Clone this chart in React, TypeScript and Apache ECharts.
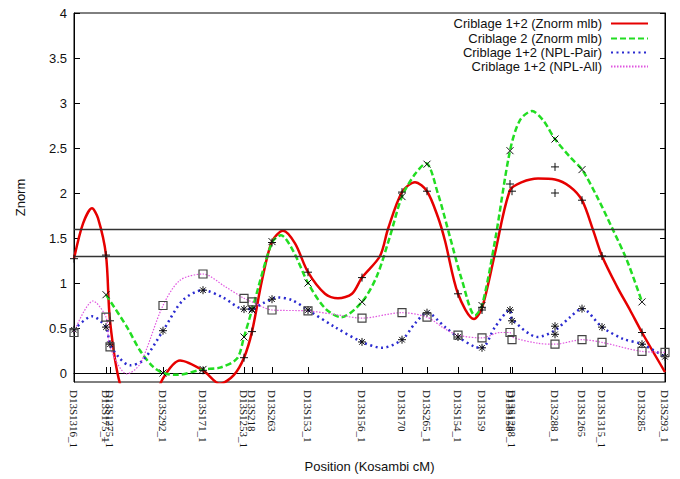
import React, { useEffect, useRef } from "react";
import * as echarts from "echarts";

// Marker positions (cM) and names
const positions = [0, 6.4, 7.2, 17.8, 25.8, 34.0, 35.6, 39.6, 46.8, 57.6, 65.6, 70.6, 76.8, 81.6, 87.2, 87.6, 96.2, 101.6, 105.6, 113.6, 118.2];
const markerNames = ["D13S1316_1", "D13S175_1", "D13S1275_1", "D13S292_1", "D13S171_1", "D13S1253_1", "D13S218", "D13S263", "D13S153_1", "D13S156_1", "D13S170", "D13S265_1", "D13S154_1", "D13S159", "D13S158", "D13S1288_1", "D13S288_1", "D13S1265", "D13S1315_1", "D13S285", "D13S293_1"];

// Marker values (null = no point)
const redPts = [1.27, 1.31, 0.58, null, 0.03, 0.17, 0.46, 1.45, 1.12, 1.06, 2.01, 2.02, 0.88, 0.70, 2.10, 2.02, 2.29, 1.92, 1.30, 0.45, null];
const redPts2 = [null, null, null, null, null, null, null, null, null, null, null, null, null, 0.73, null, null, 2.00, null, null, null, null];
const greenPts = [null, 0.87, null, 0.0, 0.04, 0.40, 0.70, 1.46, 1.00, 0.79, 1.96, 2.32, null, 0.75, 2.47, null, 2.60, 2.26, null, 0.79, null];
const bluePts = [0.48, 0.51, 0.32, 0.47, 0.92, 0.71, 0.71, 0.82, 0.70, 0.345, 0.37, 0.67, 0.40, 0.28, 0.70, 0.58, 0.52, 0.715, 0.51, 0.32, 0.18];
const bluePts2 = [null, null, null, null, null, null, null, null, null, null, null, null, null, null, null, null, 0.43, null, null, null, null];
const magentaPts = [0.45, 0.62, 0.29, 0.75, 1.10, 0.83, 0.79, 0.70, 0.69, 0.61, 0.67, 0.62, 0.42, 0.39, 0.45, 0.37, 0.32, 0.37, 0.34, 0.24, 0.23];

// Smoothed curves: [cM, Znorm]
const redCurve = [[0, 1.27], [1.8, 1.66], [3.6, 1.83], [4.8, 1.72], [6.4, 1.31], [7.2, 0.58], [9.2, -0.12], [13.2, -0.6], [17.8, -0.06], [21.2, 0.14], [25.8, 0.03], [29.2, -0.12], [32.0, -0.02], [34.0, 0.17], [35.6, 0.46], [37.6, 1.03], [39.6, 1.46], [41.8, 1.58], [44.2, 1.44], [46.8, 1.12], [50.2, 0.88], [52.8, 0.83], [55.6, 0.88], [57.6, 1.06], [61.2, 1.30], [62.8, 1.60], [65.6, 2.01], [68.2, 2.12], [70.6, 2.02], [72.8, 1.73], [74.2, 1.47], [76.8, 0.88], [80.0, 0.60], [81.6, 0.72], [84.2, 1.33], [87.2, 2.03], [89.6, 2.12], [92.8, 2.16], [96.2, 2.15], [99.2, 2.07], [101.6, 1.92], [103.8, 1.59], [105.6, 1.30], [108.6, 0.96], [111.2, 0.70], [113.6, 0.45], [118.2, 0.01]];
const greenCurve = [[6.4, 0.87], [10.6, 0.51], [13.2, 0.25], [15.8, 0.07], [17.8, 0.0], [20.6, -0.02], [25.8, 0.04], [29.2, 0.06], [32.6, 0.16], [34.0, 0.40], [35.6, 0.70], [39.6, 1.45], [41.4, 1.53], [43.8, 1.36], [46.8, 1.00], [50.2, 0.72], [53.4, 0.62], [57.6, 0.79], [60.6, 1.08], [63.2, 1.52], [65.6, 1.96], [68.2, 2.21], [70.4, 2.33], [72.8, 1.99], [75.2, 1.51], [77.6, 1.03], [80.2, 0.64], [81.6, 0.75], [84.2, 1.47], [87.2, 2.47], [89.2, 2.81], [91.6, 2.91], [93.8, 2.81], [96.2, 2.60], [99.2, 2.40], [101.6, 2.26], [104.6, 1.96], [107.8, 1.59], [110.6, 1.25], [113.6, 0.79]];
const blueCurve = [[0, 0.48], [3.6, 0.63], [6.4, 0.51], [7.2, 0.32], [9.2, 0.16], [11.2, 0.085], [13.8, 0.14], [17.8, 0.47], [21.8, 0.81], [25.8, 0.92], [29.8, 0.84], [34.0, 0.71], [35.6, 0.71], [37.6, 0.77], [40.8, 0.84], [43.6, 0.81], [46.8, 0.70], [52.2, 0.51], [57.6, 0.345], [61.6, 0.28], [65.6, 0.37], [68.2, 0.55], [70.6, 0.67], [74.2, 0.51], [76.8, 0.40], [80.2, 0.29], [81.6, 0.28], [84.2, 0.51], [87.2, 0.70], [87.6, 0.60], [92.8, 0.40], [96.2, 0.475], [99.2, 0.62], [101.6, 0.715], [105.6, 0.51], [109.8, 0.38], [113.6, 0.32], [118.2, 0.18]];
const magentaCurve = [[0, 0.455], [3.8, 0.80], [6.4, 0.62], [7.2, 0.29], [10.6, -0.01], [13.2, 0.10], [17.8, 0.75], [21.2, 1.03], [25.8, 1.10], [30.2, 0.96], [34.0, 0.83], [35.6, 0.79], [39.6, 0.70], [46.8, 0.69], [52.2, 0.65], [57.6, 0.61], [65.6, 0.67], [70.6, 0.62], [74.2, 0.49], [76.8, 0.42], [81.6, 0.39], [85.2, 0.45], [87.2, 0.45], [87.6, 0.40], [92.8, 0.33], [96.2, 0.32], [101.6, 0.37], [105.6, 0.34], [113.6, 0.24], [118.2, 0.23]];

const thresholds = [1.3, 1.6];
const yTicks = [0, 0.5, 1, 1.5, 2, 2.5, 3, 3.5, 4];
const seriesNames = ["Criblage 1+2 (Znorm mlb)", "Criblage 2 (Znorm mlb)", "Criblage 1+2 (NPL-Pair)", "Criblage 1+2 (NPL-All)"];

const PLUS = "path://M5,0L5,10M0,5L10,5";
const CROSS = "path://M0,0L10,10M0,10L10,0";
const STAR = "path://M5,0L5,10M0,5L10,5M1.5,1.5L8.5,8.5M1.5,8.5L8.5,1.5";

const pairs = (vals: (number | null)[]) =>
  positions.map((p, i) => (vals[i] == null ? null : [p, vals[i] as number])).filter((d) => d !== null);

export default function App() {
  const ref = useRef<HTMLDivElement>(null);
  useEffect(() => {
    if (!ref.current) return;
    const chart = echarts.init(ref.current, null, { renderer: "svg" });
    const sans = "Liberation Sans, Arial, sans-serif";
    const lineSeries = (name: string, data: number[][], color: string, width: number, type: any, extra: any = {}) => ({
      type: "line",
      name,
      data,
      smooth: 0.3,
      symbol: "none",
      clip: true,
      z: 2,
      lineStyle: { color, width, type },
      itemStyle: { color },
      emphasis: { disabled: true },
      ...extra,
    });
    const pointSeries = (name: string, data: any[], symbol: string, size: number, border = "#111", bw = 1) => ({
      type: "scatter",
      name,
      data,
      symbol,
      symbolSize: size,
      clip: true,
      z: 5,
      silent: true,
      itemStyle: { color: "rgba(0,0,0,0)", borderColor: border, borderWidth: bw, opacity: 1 },
    });
    const legendTops = [17, 32, 46, 60];
    chart.setOption({
      animation: false,
      backgroundColor: "#fff",
      textStyle: { fontFamily: sans },
      grid: {
        left: 74, right: 15, top: 13, bottom: 97,
        outerBoundsMode: "none",
        containLabel: false,
        show: true, borderColor: "#000", borderWidth: 1, backgroundColor: "transparent",
      },
      legend: seriesNames.map((n, i) => ({
        data: [n],
        orient: "vertical",
        right: 31,
        top: legendTops[i],
        padding: 0,
        align: "right",
        itemWidth: 37,
        itemHeight: 14,
        selectedMode: false,
        itemStyle: { color: "rgba(0,0,0,0)", borderWidth: 0, borderColor: "rgba(0,0,0,0)" },
        textStyle: { fontSize: 13, color: "#111", fontFamily: sans, padding: [0, 4, 0, 0] },
      })),
      xAxis: {
        type: "value",
        min: 0,
        max: 118.2,
        name: "Position (Kosambi cM)",
        nameLocation: "middle",
        nameGap: 78,
        nameTextStyle: { fontSize: 13, color: "#111", fontFamily: sans },
        axisLine: { show: true, lineStyle: { color: "#000", width: 1 } },
        axisTick: { show: true, inside: true, length: 6, customValues: positions, lineStyle: { color: "#000", width: 1 } },
        axisLabel: {
          show: true,
          customValues: positions,
          rotate: -90,
          margin: 8,
          fontSize: 11,
          color: "#111",
          fontFamily: "Liberation Serif, Times New Roman, serif",
          hideOverlap: false,
          formatter: (v: number) => {
            const i = positions.findIndex((p) => Math.abs(p - v) < 1e-6);
            return i >= 0 ? markerNames[i] : "";
          },
        },
        splitLine: { show: false },
      },
      yAxis: [
        {
          type: "value",
          min: -0.1,
          max: 4,
          name: "Znorm",
          nameLocation: "middle",
          nameGap: 47,
          nameRotate: 90,
          nameTextStyle: { fontSize: 13, color: "#111", fontFamily: sans },
          axisLine: { show: true, lineStyle: { color: "#000" } },
          axisTick: { show: true, inside: true, length: 6, customValues: yTicks, lineStyle: { color: "#000" } },
          axisLabel: { customValues: yTicks, margin: 7, fontSize: 13, color: "#111", fontFamily: sans },
          splitLine: { show: false },
        },
        {
          type: "value",
          min: -0.1,
          max: 4,
          position: "right",
          axisLine: { show: true, lineStyle: { color: "#000" } },
          axisTick: { show: true, inside: true, length: 5, customValues: yTicks, lineStyle: { color: "#000" } },
          axisLabel: { show: false },
          splitLine: { show: false },
        },
      ],
      series: [
        lineSeries(seriesNames[0], redCurve, "#e60000", 2.5, "solid", {
          markLine: {
            silent: true,
            symbol: ["none", "none"],
            label: { show: false },
            lineStyle: { color: "#333", type: "solid", width: 1.3 },
            data: thresholds.map((t) => ({ yAxis: t })),
          },
        }),
        lineSeries(seriesNames[1], greenCurve, "#22dd22", 2.5, [6, 3]),
        lineSeries(seriesNames[2], blueCurve, "#2a2ad0", 2.5, [2, 3.5]),
        lineSeries(seriesNames[3], magentaCurve, "#e055e0", 1.2, [1.5, 1.5]),
        pointSeries("p1", pairs(redPts), PLUS, 8),
        pointSeries("p1b", pairs(redPts2), PLUS, 8),
        pointSeries("p2", pairs(greenPts), CROSS, 7),
        pointSeries("p3", pairs(bluePts), STAR, 8),
        pointSeries("p3b", pairs(bluePts2), STAR, 8),
        pointSeries("p4", pairs(magentaPts), "rect", 8, "#444", 1.2),
      ],
    });
    return () => chart.dispose();
  }, []);
  return <div ref={ref} style={{ position: "fixed", left: 0, top: 0, width: 680, height: 479 }} />;
}
